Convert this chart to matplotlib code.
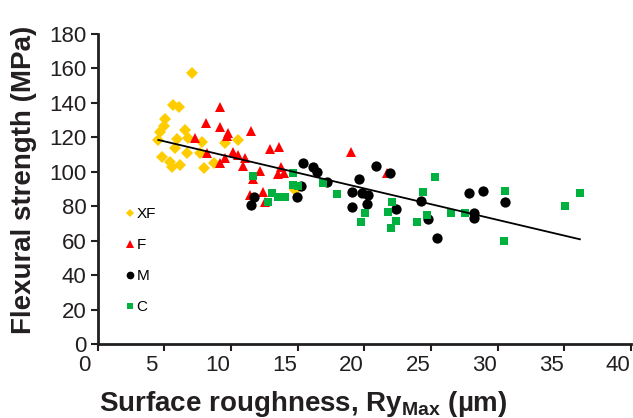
import matplotlib
matplotlib.use('Agg')
import matplotlib.pyplot as plt
from matplotlib.transforms import ScaledTranslation

plt.rcParams['font.family'] = ['Liberation Sans', 'DejaVu Sans']
plt.rcParams['mathtext.fontset'] = 'custom'
plt.rcParams['mathtext.rm'] = 'Liberation Sans:bold'
plt.rcParams['mathtext.bf'] = 'Liberation Sans:bold'
plt.rcParams['mathtext.it'] = 'Liberation Sans:bold'
plt.rcParams['mathtext.default'] = 'bf'

# ---- data ----
xf_x = [7.06, 5.64, 6.13, 5.06, 5.01, 4.69, 4.56, 5.94, 5.81, 6.56, 6.81, 6.73,
        7.81, 7.68, 4.81, 5.43, 5.56, 6.18, 7.98, 8.73, 9.56, 10.51, 14.81]
xf_y = [157.6, 138.8, 137.8, 130.7, 126.6, 122.9, 118.5, 118.9, 113.6, 124.3, 119.5, 111.1,
        117.5, 110.7, 108.8, 105.9, 102.6, 103.9, 102.0, 105.3, 116.6, 118.5, 89.4]

f_x = [9.18, 8.13, 9.18, 9.81, 9.69, 11.48, 7.31, 8.19, 10.18, 10.55, 9.56, 9.18, 11.06,
       10.93, 12.18, 12.93, 13.61, 13.55, 13.76, 13.98, 11.68, 12.43, 11.43, 12.56, 19.0, 21.7]
f_y = [137.8, 128.5, 125.8, 122.4, 120.8, 123.9, 119.5, 111.1, 111.7, 109.8, 107.8, 104.9, 107.8,
       103.4, 100.6, 113.2, 114.2, 98.7, 102.8, 99.1, 95.6, 88.4, 86.5, 82.6, 111.3, 99.1]

m_x = [11.73, 11.51, 15.38, 16.13, 16.43, 17.17, 15.23, 14.96, 19.06, 19.06, 19.6, 19.83,
       20.31, 20.22, 20.88, 21.93, 22.38, 24.23, 24.8, 25.49, 27.87, 28.92, 28.22, 28.25, 30.55]
m_y = [85.4, 80.7, 105.3, 102.6, 100.1, 94.1, 91.5, 85.5, 88.4, 79.7, 95.9, 87.9,
       86.5, 81.3, 103.2, 99.5, 78.1, 83.2, 72.3, 61.4, 87.5, 88.9, 75.9, 73.3, 82.6]

c_x = [11.68, 12.8, 13.06, 13.55, 14.06, 14.69, 14.68, 15.05, 16.94, 17.99, 19.73, 20.05, 21.8,
       21.98, 22.05, 22.41, 23.95, 24.44, 24.68, 25.3, 26.48, 27.55, 30.47, 30.55, 35.05, 36.17]
c_y = [97.6, 82.6, 87.9, 85.5, 85.5, 99.1, 92.3, 91.8, 93.5, 86.9, 71.0, 75.9, 76.8,
       67.1, 82.6, 71.6, 71.0, 88.4, 74.9, 97.2, 76.2, 75.9, 59.8, 89.0, 80.3, 87.9]

trend_x = [4.56, 36.17]
trend_y = [118.5, 60.8]

labels = ['XF', 'F', 'M', 'C']
x_ticks = [0, 5, 10, 15, 20, 25, 30, 35, 40]
y_ticks = [0, 20, 40, 60, 80, 100, 120, 140, 160, 180]

# ---- figure ----
W, H = 633, 418
fig = plt.figure(figsize=(W / 100, H / 100), dpi=100)
ax = fig.add_axes([97.5 / W, 1 - 344 / H, (631 - 97.5) / W, 310 / H])

ax.plot(xf_x, xf_y, ls='none', marker='D', ms=6.0, mew=0, color='#FFCC00', label=labels[0], zorder=3)
ax.plot(f_x, f_y, ls='none', marker='^', ms=7.6, mew=0, color='#FF0000', label=labels[1], zorder=3)
ax.plot(m_x, m_y, ls='none', marker='o', ms=7.4, mew=0, color='#000000', label=labels[2], zorder=3)
ax.plot(c_x, c_y, ls='none', marker='s', ms=6.0, mew=0, color='#00B140', label=labels[3], zorder=3)
ax.plot(trend_x, trend_y, color='black', lw=1.3, zorder=4)

ax.set_xlim(0, 40)
ax.set_ylim(0, 180)
ax.set_xticks(x_ticks)
ax.set_yticks(y_ticks)
ax.tick_params(axis='both', direction='out', length=5, width=1.5, labelsize=16, pad=3,
               colors='#231F20')
for s in ['top', 'right']:
    ax.spines[s].set_visible(False)
for s in ['left', 'bottom']:
    ax.spines[s].set_linewidth(2)
    ax.spines[s].set_color('#231F20')

off = ScaledTranslation(-13 / 100, 0, fig.dpi_scale_trans)
for t in ax.xaxis.get_major_ticks():
    t.label1.set_transform(t.label1.get_transform() + off)

ax.set_xlabel(r'Surface roughness, Ry$_{Max}$ (µm)', fontsize=20, fontweight='bold', color='#231F20')
ax.set_ylabel('Flexural strength (MPa)', fontsize=20, fontweight='bold', color='#231F20')
ax.xaxis.set_label_coords(0.385, -0.144)
ax.yaxis.set_label_coords(-0.113, 0.53)

ax.legend(loc='upper left', bbox_to_anchor=(0.053, 0.442), frameon=False, fontsize=11,
          handlelength=0.6, handletextpad=0.1, labelspacing=1.12, borderpad=0,
          borderaxespad=0, markerscale=0.75, numpoints=1)

fig.savefig('out.png', dpi=100)
